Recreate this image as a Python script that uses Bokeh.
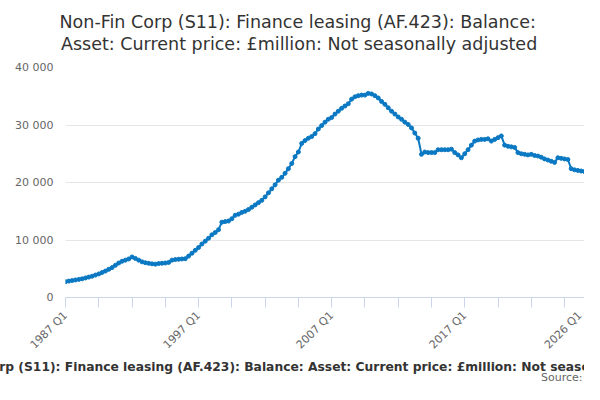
import math
from bokeh.plotting import figure
from bokeh.models import Range1d, FixedTicker, ColumnDataSource, Title
from bokeh.embed import file_html
from bokeh.resources import INLINE

title_line1 = "Non-Fin Corp (S11): Finance leasing (AF.423): Balance:"
title_line2 = "Asset: Current price: £million: Not seasonally adjusted"
series_name = ("Non-Fin Corp (S11): Finance leasing (AF.423): Balance: Asset: "
               "Current price: £million: Not seasonally adjusted")
source_text = "Source:"

# Quarterly values, 1987 Q1 .. 2026 Q1 (£million)
values = [
    2750, 2850, 2950, 3050, 3150, 3250, 3400, 3550, 3700, 3900,
    4100, 4350, 4600, 4900, 5200, 5600, 6000, 6300, 6500, 6700,
    7050, 6800, 6500, 6200, 6050, 5950, 5850, 5800, 5900, 5950,
    6000, 6100, 6500, 6600, 6650, 6700, 6750, 7200, 7700, 8200,
    8700, 9300, 9800, 10300, 10900, 11300, 11800, 13100, 13200, 13300,
    13700, 14300, 14500, 14800, 15000, 15300, 15700, 16100, 16500, 16900,
    17500, 18200, 18900, 19600, 20400, 20900, 21600, 22400, 23300, 24500,
    25300, 26800, 27300, 27700, 28000, 28500, 29300, 29900, 30500, 31000,
    31300, 31900, 32400, 32900, 33300, 33700, 34500, 34900, 35100, 35200,
    35200, 35500, 35400, 35100, 34700, 34100, 33600, 33000, 32400, 31900,
    31400, 31000, 30500, 30100, 29500, 28600, 27700, 24900, 25300, 25200,
    25200, 25200, 25700, 25700, 25700, 25700, 25800, 25200, 24800, 24300,
    25000, 25700, 26500, 27200, 27400, 27500, 27500, 27600, 27200, 27500,
    27800, 28100, 26500, 26300, 26200, 26100, 25200, 25000, 24900, 24800,
    24900, 24700, 24600, 24400, 24100, 23900, 23700, 23500, 24300, 24200,
    24100, 24000, 22400, 22200, 22100, 22000, 21900,
]
quarters = [f"{1987 + i // 4} Q{i % 4 + 1}" for i in range(len(values))]
x_tick_labels = ["1987 Q1", "1997 Q1", "2007 Q1", "2017 Q1", "2026 Q1"]
y_ticks = [0, 10000, 20000, 30000, 40000]
y_tick_labels = ["0", "10 000", "20 000", "30 000", "40 000"]

FONT = "DejaVu Sans"
LINE_COLOR = "#0a78c2"

W, H = 584, 384
p = figure(width=W, height=H, output_backend="svg", toolbar_location=None,
           x_range=Range1d(0, len(values) - 1), y_range=Range1d(0, 40000),
           min_border_left=65, min_border_right=0, min_border_top=67,
           min_border_bottom=87)
p.outline_line_color = None
p.background_fill_color = "white"
p.border_fill_color = "white"

src = ColumnDataSource(dict(x=list(range(len(values))), y=values, q=quarters))
p.line("x", "y", source=src, line_color=LINE_COLOR, line_width=2)
p.scatter("x", "y", source=src, size=4, fill_color=LINE_COLOR,
          line_color=LINE_COLOR)

# x axis
tick_pos = list(range(0, len(values), 10)) + [len(values) - 1]
label_pos = {quarters.index(l): l for l in x_tick_labels}
xa = p.xaxis[0]
xa.ticker = FixedTicker(ticks=tick_pos, minor_ticks=[])
xa.major_label_overrides = {t: label_pos.get(t, "") for t in tick_pos}
xa.major_label_orientation = math.pi / 4
xa.axis_line_color = "#ccd6eb"
xa.major_tick_line_color = "#ccd6eb"
xa.major_tick_out = 10
xa.major_tick_in = 0
xa.minor_tick_line_color = None
xa.major_label_text_font = FONT
xa.major_label_text_font_size = "11px"
xa.major_label_text_color = "#666666"
xa.major_label_standoff = 6

# y axis
ya = p.yaxis[0]
ya.ticker = FixedTicker(ticks=y_ticks, minor_ticks=[])
ya.major_label_overrides = dict(zip(y_ticks, y_tick_labels))
ya.axis_line_color = None
ya.major_tick_line_color = None
ya.minor_tick_line_color = None
ya.major_label_text_font = FONT
ya.major_label_text_font_size = "11px"
ya.major_label_text_color = "#666666"
ya.major_label_standoff = 6

p.xgrid.grid_line_color = None
p.ygrid.grid_line_color = "#e6e6e6"
p.ygrid.ticker = FixedTicker(ticks=y_ticks)

# titles (nearest the frame first): spacer, line 2, line 1
p.add_layout(Title(text=" ", text_font_size="1px", standoff=10.6), "above")
p.add_layout(Title(text=title_line2, align="left", offset=-4.5, standoff=0,
                   text_font=FONT, text_font_size="17.5px",
                   text_font_style="normal", text_color="#333333"), "above")
p.add_layout(Title(text=title_line1, align="left", offset=-6, standoff=0,
                   text_font=FONT, text_font_size="17.5px",
                   text_font_style="normal", text_color="#333333"), "above")

# legend-like series name and source below the axis
p.add_layout(Title(text=series_name, align="left", offset=-142, standoff=-4,
                   text_font=FONT, text_font_size="12.3px",
                   text_font_style="bold", text_color="#333333"), "below")
p.add_layout(Title(text=source_text, align="right", offset=2, standoff=-3.8,
                   text_font=FONT, text_font_size="11px",
                   text_font_style="normal", text_color="#666666"), "below")

open("out.html", "w").write(file_html(p, INLINE))
